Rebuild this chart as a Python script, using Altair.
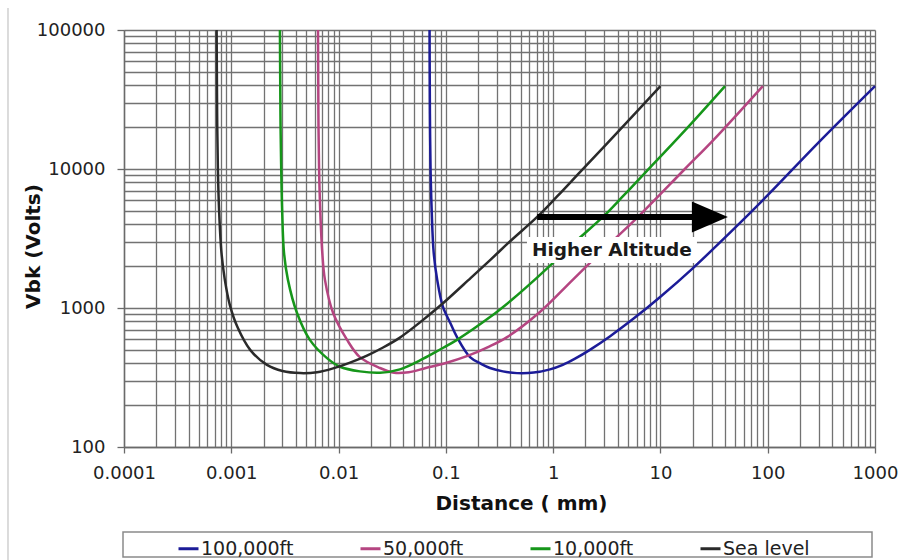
import altair as alt
import pandas as pd

# ---------------- data ----------------
series_names = ["100,000ft", "50,000ft", "10,000ft", "Sea level"]
series_colors = ["#1c1c98", "#b54581", "#16961a", "#2a2a2a"]

sea_x = [0.00073, 0.000735, 0.00074, 0.00075, 0.00077, 0.00081, 0.00087, 0.00097,
         0.00115, 0.0015, 0.00215, 0.003, 0.0044, 0.0063, 0.0089, 0.0128, 0.0184,
         0.026, 0.037, 0.057, 0.09, 0.17, 0.26, 0.4, 0.71, 1.1, 1.78, 4.2, 10]
sea_v = [100000, 40000, 20000, 10000, 5000, 2500, 1600, 1050,
         720, 500, 390, 352, 340, 345, 368, 405, 455,
         520, 610, 785, 1050, 1640, 2220, 3035, 4520, 6400, 9500, 19200, 39500]

k10_x = [0.00284, 0.00286, 0.00288, 0.00292, 0.00298, 0.0031, 0.00337, 0.0041,
         0.0054, 0.0078, 0.0103, 0.0158, 0.0243, 0.0373, 0.061, 0.09, 0.127, 0.258,
         0.42, 0.7, 1.07, 1.64, 2.91, 4.5, 7.3, 17.2, 40]
k10_v = [100000, 40000, 20000, 10000, 5000, 2500, 1600, 920,
         590, 436, 378, 350, 342, 362, 430, 507, 590, 860,
         1160, 1640, 2220, 3035, 4520, 6400, 9500, 19200, 39500]

k50_x = [0.00643, 0.00647, 0.0065, 0.00658, 0.00675, 0.00705, 0.00746, 0.0089,
         0.012, 0.0158, 0.0243, 0.033, 0.045, 0.065, 0.1, 0.157, 0.25, 0.372, 0.753,
         1.53, 3.2, 6.5, 16.9, 30.8, 90]
k50_v = [100000, 40000, 20000, 10000, 5000, 2500, 1600, 920,
         590, 443, 370, 342, 345, 370, 402, 450, 525, 617, 935,
         1600, 2790, 4700, 10000, 16000, 39500]

k100_x = [0.0705, 0.0708, 0.0712, 0.072, 0.0738, 0.077, 0.083, 0.094,
          0.11, 0.127, 0.168, 0.215, 0.258, 0.34, 0.46, 0.66, 0.935, 1.23,
          1.6, 2.2, 3.4, 5.78, 10, 20, 50, 100, 300, 1000]
k100_v = [100000, 40000, 20000, 10000, 5000, 2500, 1600, 1017,
          780, 617, 443, 395, 370, 350, 340, 343, 362, 390,
          432, 500, 627, 853, 1205, 1930, 3800, 6480, 15620, 39500]

x_major = [0.0001, 0.001, 0.01, 0.1, 1, 10, 100, 1000]
y_major = [100, 1000, 10000, 100000]

# annotation ("Higher Altitude" arrow)
arrow_x = [0.71, 21]
arrow_v = [4520, 4520]
arrow_head_x = [28.9]
arrow_head_v = [4520]
note_text = ["Higher Altitude"]
note_x = [3.53]
note_v = [2610]
note_box_x = [0.57]
note_box_x2 = [21.9]
note_box_v = [2110]
note_box_v2 = [3245]

# ---------------- tables ----------------
rows = []
for name, xs, vs in [("100,000ft", k100_x, k100_v), ("50,000ft", k50_x, k50_v),
                     ("10,000ft", k10_x, k10_v), ("Sea level", sea_x, sea_v)]:
    for i, (xv, vv) in enumerate(zip(xs, vs)):
        rows.append({"series": name, "x": xv, "v": vv, "i": i})
df = pd.DataFrame(rows)

x_grid = sorted(set(round(m * 10.0 ** k, 10) for k in range(-4, 3) for m in range(1, 10)) | {1000.0})
y_grid = sorted(set(round(m * 10.0 ** k, 6) for k in range(2, 5) for m in range(1, 10)) | {100000.0})

is_major = "abs(log(datum.value)/LN10 - round(log(datum.value)/LN10)) < 1e-6"

FONT = "DejaVu Sans"
GRID = "#727272"

x_scale = alt.Scale(type="log", domain=[0.0001, 1000], nice=False)
y_scale = alt.Scale(type="log", domain=[100, 100000], nice=False)

x_axis = alt.Axis(
    values=x_grid, grid=True, gridColor=GRID, gridWidth=1.3,
    labelExpr=f"{is_major} ? format(datum.value, '~g') : ''",
    labelOverlap=False, labelFlush=False, labelFont=FONT, labelFontSize=18,
    labelColor="#222222", labelPadding=11,
    tickSize=6, tickColor="#6a6a6a", tickWidth=1.3,
    tickOpacity={"condition": {"test": is_major, "value": 1}, "value": 0},
    domainColor="#6a6a6a", domainWidth=1.4,
    title="Distance ( mm)", titleFont=FONT, titleFontWeight="bold", titleFontSize=20,
    titleColor="#111111", titleX=397, titleY=56, titleAlign="center", titleBaseline="middle",
)
y_axis = alt.Axis(
    values=y_grid, grid=True, gridColor=GRID, gridWidth=1.3,
    labelExpr=f"{is_major} ? format(datum.value, '~g') : ''",
    labelOverlap=False, labelFlush=False, labelFont=FONT, labelFontSize=18,
    labelColor="#222222", labelPadding=12,
    tickSize=7, tickColor="#6a6a6a", tickWidth=1.3,
    tickOpacity={"condition": {"test": is_major, "value": 1}, "value": 0},
    domainColor="#6a6a6a", domainWidth=1.4,
    title="Vbk (Volts)", titleFont=FONT, titleFontWeight="bold", titleFontSize=20,
    titleColor="#111111", titleX=-91, titleY=216, titleAngle=270, titleAlign="center",
    titleBaseline="middle",
)

X = alt.X("x:Q", scale=x_scale, axis=x_axis)
Y = alt.Y("v:Q", scale=y_scale, axis=y_axis)

lines = alt.Chart(df).mark_line(strokeWidth=2.5, interpolate="catmull-rom").encode(
    x=X, y=Y,
    color=alt.Color(
        "series:N",
        scale=alt.Scale(domain=series_names, range=series_colors),
        title=None,
        legend=alt.Legend(
            orient="none", legendX=53, legendY=507, direction="horizontal", columns=4,
            symbolType="stroke", symbolSize=400, symbolStrokeWidth=3,
            labelFont=FONT, labelFontSize=19, labelColor="#222222", labelOffset=1,
            columnPadding=60, padding=0, labelLimit=0,
        ),
    ),
    order="i:Q",
)

box_df = pd.DataFrame({"x": note_box_x, "x2": note_box_x2, "v": note_box_v, "v2": note_box_v2})
note_box = alt.Chart(box_df).mark_rect(color="white").encode(
    x=X, x2="x2:Q", y=Y, y2="v2:Q"
)

note_df = pd.DataFrame({"x": note_x, "v": note_v, "t": note_text})
note = alt.Chart(note_df).mark_text(
    font=FONT, fontSize=18.5, fontWeight="bold", color="#1a1a1a", align="center", baseline="middle"
).encode(x=X, y=Y, text="t:N")

arrow_df = pd.DataFrame({"x": arrow_x, "v": arrow_v})
arrow_line = alt.Chart(arrow_df).mark_line(color="black", strokeWidth=6).encode(x=X, y=Y)

head_df = pd.DataFrame({"x": arrow_head_x, "v": arrow_head_v})
arrow_head = alt.Chart(head_df).mark_point(
    shape="M-1,-0.86L1,0L-1,0.86Z", size=1296, filled=True, color="black", opacity=1, strokeWidth=0
).encode(x=X, y=Y)

deco_df = pd.DataFrame({"k": [0]})
legend_frame = alt.Chart(deco_df).mark_rect(
    fill="white", fillOpacity=0, stroke="#8a8a8a", strokeWidth=1.5
).encode(x=alt.value(-1), x2=alt.value(748), y=alt.value(502), y2=alt.value(527))
left_frame = alt.Chart(deco_df).mark_rule(color="#c4c4c4", strokeWidth=1.2).encode(
    x=alt.value(-116), y=alt.value(-22), y2=alt.value(530)
)

chart = alt.layer(
    lines, note_box, note, arrow_line, arrow_head, legend_frame, left_frame
).properties(
    width=751, height=417,
    padding={"left": 124, "top": 30, "right": 27, "bottom": 113},
    autosize=alt.AutoSizeParams(type="none"),
    background="white",
).configure_view(strokeWidth=0)

chart.save("out.html", embed_options={"renderer": "svg", "actions": False})
